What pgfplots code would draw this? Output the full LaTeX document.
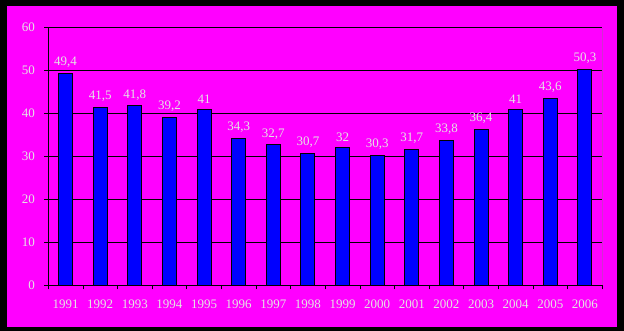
\documentclass[border=0pt]{standalone}
\usepackage{pgfplots}
\pgfplotsset{compat=1.18}
\usepackage{fontspec}
\setmainfont{Liberation Serif}
\definecolor{mag}{RGB}{255,0,255}
\definecolor{txt}{RGB}{228,228,228}
\definecolor{barblue}{RGB}{0,0,255}
\begin{document}
\begin{tikzpicture}
\fill[black] (0pt,0pt) rectangle (624pt,331pt);
\fill[mag] (7pt,4pt) rectangle (617pt,325pt);
\begin{axis}[
  at={(48.3pt,45.7pt)}, anchor=south west,
  scale only axis, width=554pt, height=257.6pt,
  xmin=-0.5, xmax=15.5, ymin=0, ymax=60,
  ytick={0,10,...,60},
  xtick={-0.5,0.5,...,15.5}, xticklabels={},
  extra x ticks={0,1,...,15},
  extra x tick labels={1991,1992,1993,1994,1995,1996,1997,1998,1999,2000,2001,2002,2003,2004,2005,2006},
  extra x tick style={major tick length=0pt, xticklabel style={yshift=-11pt}},
  font=\fontsize{13}{15}\selectfont,
  /pgf/number format/assume math mode=true,
  /pgf/number format/use comma,
  /pgf/number format/fixed,
  /pgf/number format/precision=1,
  axis x line*=bottom, axis y line*=left,
  axis line style={black, line width=0.8pt},
  tick align=outside, major tick length=4pt,
  tick style={black, line width=0.8pt},
  ticklabel style={text=txt},
  yticklabel style={xshift=-6pt},
  ymajorgrids, grid style={black, line width=0.8pt},
  ybar, bar width=14pt,
  nodes near coords,
  every node near coord/.append style={text=txt, yshift=2pt},
]
\addplot[fill=barblue, draw=black, line width=1pt] coordinates {
(0,49.4) (1,41.5) (2,41.8) (3,39.2) (4,41) (5,34.3) (6,32.7) (7,30.7)
(8,32) (9,30.3) (10,31.7) (11,33.8) (12,36.4) (13,41) (14,43.6) (15,50.3)};
\draw[gray, line width=0.8pt] (rel axis cs:1,0) -- (rel axis cs:1,1);
\end{axis}
\end{tikzpicture}
\end{document}
